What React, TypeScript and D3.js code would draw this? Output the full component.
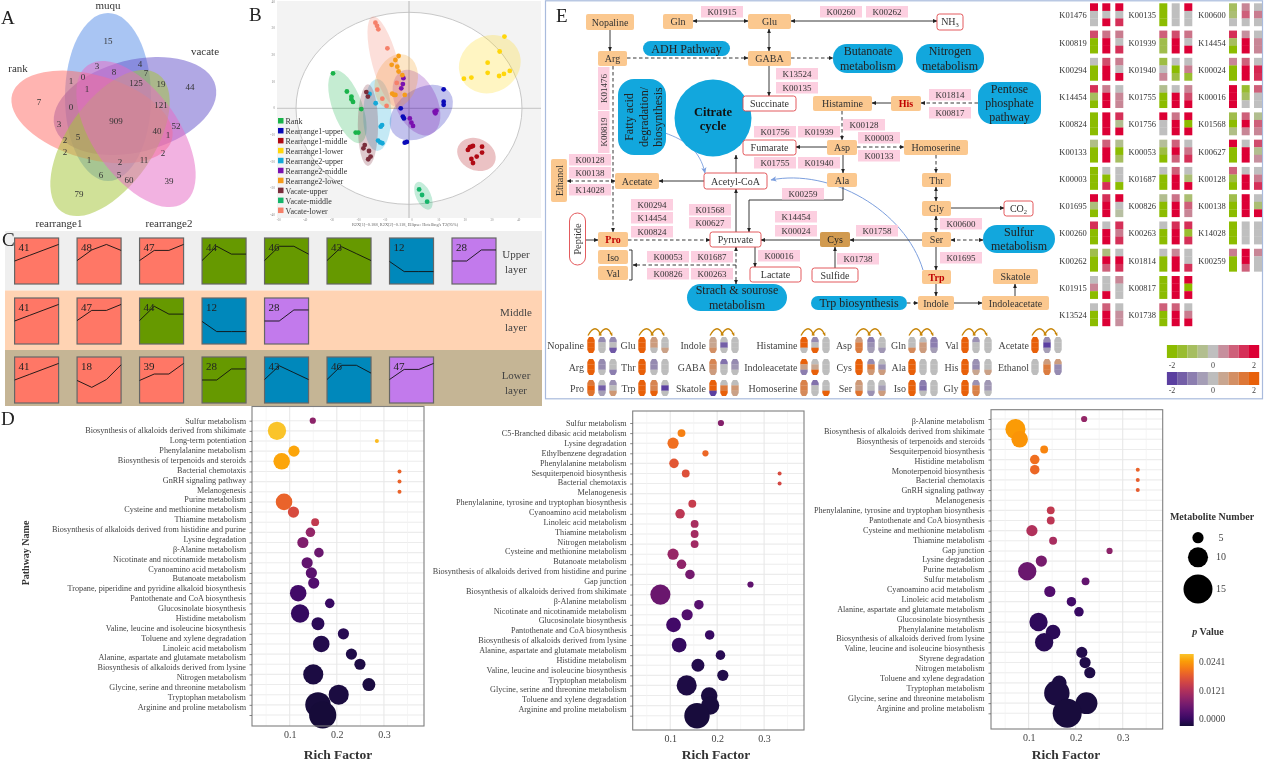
import React, { useEffect, useRef } from "react";
import * as d3 from "d3";

// ---------- panel A: venn
const vennNames = ["muqu", "vacate", "rank", "rearrange1", "rearrange2"];
const vennCounts = [15, 3, 4, 8, 7, 1, 0, 1, 125, 19, 44, 7, 0, 121, 909, 3, 52, 40, 1, 2, 5, 2, 2, 1, 11, 2, 6, 5, 60, 39, 79];
const vennSpots = [[108, 41], [97, 66], [140, 64], [114, 72], [146, 73], [71, 81], [83, 77], [87, 89], [136, 83], [161, 84], [190, 87], [39, 102], [71, 107], [161, 105], [116, 121], [59, 124], [176, 126], [157, 131], [168, 135], [65, 140], [78, 137], [65, 152], [163, 153], [89, 160], [144, 160], [120, 162], [101, 175], [119, 175], [129, 180], [169, 181], [79, 194]];
const vennNameSpots = [[108, 5], [205, 51], [18, 68], [59, 223], [169, 223]];
const vennEllipses = [
  { cx: 108, cy: 97, rot: 0, rx: 43, ry: 84, fill: "#5b8fe8" },
  { cx: 135, cy: 106, rot: 76, rx: 46, ry: 83, fill: "#6a58cc" },
  { cx: 92, cy: 117, rot: -74, rx: 42, ry: 83, fill: "#ff6f6a" },
  { cx: 110, cy: 143, rot: 35, rx: 43, ry: 84, fill: "#a5c63a" },
  { cx: 136, cy: 134, rot: -35, rx: 43, ry: 84, fill: "#e76cc5" },
];

// ---------- panel B: score plot
const pcaLegend = ["Rank", "Rearrange1-upper", "Rearrange1-middle", "Rearrange1-lower", "Rearrange2-upper", "Rearrange2-middle", "Rearrange2-lower", "Vacate-upper", "Vacate-middle", "Vacate-lower"];
const pcaColors = ["#19b34a", "#0a0ab8", "#b00a14", "#ffd60a", "#14a8d8", "#7a10b0", "#f59b1a", "#7b2d3b", "#15b56a", "#f5806a"];
const pcaPoints = [
  [[-28.5, 13.1], [-23.3, 6.3], [-21.6, 4.4], [-21.6, 3.4], [-21, 2.4], [-17.9, -0.3], [-20, -9.1], [-19, -9.1]],
  [[-3.1, 0], [-2.3, -3.1], [-1.9, -3.8], [-1.6, -12.9], [-0.8, -12.6], [13, 7.1], [13, 2.5], [13, 1.3]],
  [[22.1, -15.6], [22.8, -14.6], [23.4, -14.4], [24, -14.1], [27.4, -14.4], [27.4, -16.6], [25.4, -18.1], [23.4, -19], [24, -20.5]],
  [[20.6, 11.1], [23.4, 11.5], [29.5, 17.1], [29.5, 13.3], [33.8, 12.1], [34, 21.3], [35.6, 12.9], [35.8, 26.9], [37.8, 14]],
  [[-14.8, 5.4], [-12.5, 1.9], [-10.6, -6.9], [-10.1, -6.3], [-11.6, -12.1], [-10.8, -12.8], [-10, -13.1]],
  [[-2.1, 11.3], [-2.3, 9.1], [-2.9, 7.5], [0.3, -3.8], [0.9, -5.4], [1.5, -6.6], [9.6, -1.3], [10.3, -0.9], [9.9, -1.9]],
  [[-6.5, 16.3], [-5.1, 18.1], [-3.9, 19.6], [-4.4, 15.6], [-3.9, 13.8], [-2.5, 12.4], [-6.3, 5.5], [-5.6, 5], [-5.1, 5], [-1.6, 5]],
  [[-16, 6.1], [-15.4, 4.4], [-16.6, -13.8], [-17.1, -15], [-15, -16], [-14.4, -18.1], [-15.3, -19.1]],
  [[3.8, -30.4], [4.9, -32.5], [6.8, -35]],
  [[-12.6, 32.1], [-12, 30.9], [-11.5, 29.6], [-8.1, 22.5], [-4.6, 9.5], [-11.9, 7], [-10, 3.6], [-8.4, 0.9]],
];
const pcaEllipses = [
  [-23.1, 0.6, 5.6, 14.4, -20], [4.6, -1.6, 13.1, 8.8, -35], [25.3, -17.3, 7.5, 5.9, 25], [30.3, 16.5, 11.9, 10.6, -30],
  [-11.9, -2.5, 5.3, 13.5, 0], [2.8, 2.1, 7.8, 13.1, -25], [-4.8, 10, 7.8, 10.6, 20], [-15.4, -6.3, 3.8, 15.3, 0],
  [5.4, -32.8, 2.8, 5.6, -25], [-9.1, 17.5, 4.8, 17.5, -15],
];
const pcaTicksX = [-50, -40, -30, -20, -10, 0, 10, 20, 30, 40, 50];
const pcaTicksY = [-40, -30, -20, -10, 0, 10, 20, 30, 40];

// ---------- panel C: trend profiles
const profiles = {
  41: [0.5, 0.62, 0.74, 0.86], 48: [0.51, 0.74, 0.86, 0.73], 47: [0.51, 0.73, 0.73, 0.86], 44: [0.51, 0.82, 0.65, 0.65],
  46: [0.51, 0.82, 0.82, 0.65], 43: [0.51, 0.81, 0.66, 0.51], 12: [0.49, 0.27, 0.27, 0.27], 28: [0.5, 0.5, 0.74, 0.74],
  18: [0.49, 0.34, 0.51, 0.83], 39: [0.49, 0.63, 0.63, 0.86],
};
const upperRow = [[41, "r"], [48, "r"], [47, "r"], [44, "g"], [46, "g"], [43, "g"], [12, "b"], [28, "p"]];
const middleRow = [[41, "r"], [47, "r"], [44, "g"], [12, "b"], [28, "p"]];
const lowerRow = [[41, "r"], [18, "r"], [39, "r"], [28, "g"], [43, "b"], [46, "b"], [47, "p"]];
const profileFill = { r: "#ff7766", g: "#669900", b: "#0088bb", p: "#c27aec" };
const layerRows = [
  { boxes: upperRow, bg: "#efefef", y0: 231, y1: 290.5, top: 238, lines: ["Upper", "layer"], ly: 258 },
  { boxes: middleRow, bg: "#ffd3b3", y0: 290.5, y1: 350, top: 298, lines: ["Middle", "layer"], ly: 316 },
  { boxes: lowerRow, bg: "#c5b595", y0: 350, y1: 406, top: 357, lines: ["Lower", "layer"], ly: 379 },
];

// ---------- panel D: pathway bubbles
const names1 = ["Sulfur metabolism", "Biosynthesis of alkaloids derived from shikimate", "Long-term potentiation", "Phenylalanine metabolism", "Biosynthesis of terpenoids and steroids", "Bacterial chemotaxis", "GnRH signaling pathway", "Melanogenesis", "Purine metabolism", "Cysteine and methionine metabolism", "Thiamine metabolism", "Biosynthesis of alkaloids derived from histidine and purine", "Lysine degradation", "β-Alanine metabolism", "Nicotinate and nicotinamide metabolism", "Cyanoamino acid metabolism", "Butanoate metabolism", "Tropane, piperidine and pyridine alkaloid biosynthesis", "Pantothenate and CoA biosynthesis", "Glucosinolate biosynthesis", "Histidine metabolism", "Valine, leucine and isoleucine biosynthesis", "Toluene and xylene degradation", "Linoleic acid metabolism", "Alanine, aspartate and glutamate metabolism", "Biosynthesis of alkaloids derived from lysine", "Nitrogen metabolism", "Glycine, serine and threonine metabolism", "Tryptophan metabolism", "Arginine and proline metabolism"];
const rich1 = [0.149, 0.073, 0.285, 0.109, 0.083, 0.333, 0.333, 0.333, 0.088, 0.108, 0.154, 0.144, 0.128, 0.162, 0.137, 0.146, 0.151, 0.118, 0.185, 0.122, 0.16, 0.214, 0.167, 0.231, 0.249, 0.15, 0.268, 0.204, 0.16, 0.17];
const count1 = [2, 9, 1, 5, 8, 1, 1, 1, 8, 5, 3, 4, 5, 4, 5, 5, 5, 8, 4, 9, 6, 5, 8, 5, 5, 10, 6, 10, 13, 14];
const pval1 = [0.0089, 0.0241, 0.0235, 0.0222, 0.0222, 0.0174, 0.0174, 0.0174, 0.0174, 0.0152, 0.0133, 0.0095, 0.0079, 0.0063, 0.0057, 0.0051, 0.0044, 0.0032, 0.0025, 0.0022, 0.0016, 0.0013, 0.001, 0.0007, 0.0006, 0.0005, 0.0004, 0.0003, 0.0001, 0];

const names2 = ["Sulfur metabolism", "C5-Branched dibasic acid metabolism", "Lysine degradation", "Ethylbenzene degradation", "Phenylalanine metabolism", "Sesquiterpenoid biosynthesis", "Bacterial chemotaxis", "Melanogenesis", "Phenylalanine, tyrosine and tryptophan biosynthesis", "Cyanoamino acid metabolism", "Linoleic acid metabolism", "Thiamine metabolism", "Nitrogen metabolism", "Cysteine and methionine metabolism", "Butanoate metabolism", "Biosynthesis of alkaloids derived from histidine and purine", "Gap junction", "Biosynthesis of alkaloids derived from shikimate", "β-Alanine metabolism", "Nicotinate and nicotinamide metabolism", "Glucosinolate biosynthesis", "Pantothenate and CoA biosynthesis", "Biosynthesis of alkaloids derived from lysine", "Alanine, aspartate and glutamate metabolism", "Histidine metabolism", "Valine, leucine and isoleucine biosynthesis", "Tryptophan metabolism", "Glycine, serine and threonine metabolism", "Toluene and xylene degradation", "Arginine and proline metabolism"];
const rich2 = [0.208, 0.124, 0.106, 0.175, 0.108, 0.133, 0.333, null, 0.147, 0.121, 0.152, 0.152, 0.152, 0.106, 0.124, 0.142, 0.271, 0.079, 0.161, 0.136, 0.107, 0.184, 0.119, 0.207, 0.159, 0.212, 0.135, 0.183, 0.185, 0.157];
const count2 = [2, 3, 5, 2, 4, 3, 1, 0, 3, 4, 3, 3, 3, 5, 4, 4, 2, 10, 4, 5, 7, 4, 7, 4, 6, 5, 10, 8, 9, 13];
const pval2 = [0.0083, 0.0197, 0.0184, 0.0178, 0.0165, 0.0159, 0.0149, 0, 0.0136, 0.0127, 0.0111, 0.0108, 0.0105, 0.0098, 0.0092, 0.007, 0.0054, 0.0063, 0.0048, 0.0044, 0.0032, 0.0025, 0.0022, 0.0013, 0.001, 0.0008, 0.0006, 0.0004, 0.0002, 0.0001];
const extra2 = { row: "Sesquiterpenoid biosynthesis", rich: 0.333, count: 1, p: 0.0152 };

const names3 = ["β-Alanine metabolism", "Biosynthesis of alkaloids derived from shikimate", "Biosynthesis of terpenoids and steroids", "Sesquiterpenoid biosynthesis", "Histidine metabolism", "Monoterpenoid biosynthesis", "Bacterial chemotaxis", "GnRH signaling pathway", "Melanogenesis", "Phenylalanine, tyrosine and tryptophan biosynthesis", "Pantothenate and CoA biosynthesis", "Cysteine and methionine metabolism", "Thiamine metabolism", "Gap junction", "Lysine degradation", "Purine metabolism", "Sulfur metabolism", "Cyanoamino acid metabolism", "Linoleic acid metabolism", "Alanine, aspartate and glutamate metabolism", "Glucosinolate biosynthesis", "Phenylalanine metabolism", "Biosynthesis of alkaloids derived from lysine", "Valine, leucine and isoleucine biosynthesis", "Styrene degradation", "Nitrogen metabolism", "Toluene and xylene degradation", "Tryptophan metabolism", "Glycine, serine and threonine metabolism", "Arginine and proline metabolism"];
const rich3 = [0.218, 0.072, 0.081, 0.133, 0.113, 0.113, 0.332, 0.332, null, 0.147, 0.147, 0.107, 0.152, 0.272, 0.127, 0.097, 0.221, 0.145, 0.191, 0.207, 0.121, 0.152, 0.133, 0.213, 0.22, 0.23, 0.165, 0.16, 0.223, 0.182];
const count3 = [2, 10, 8, 3, 4, 4, 1, 1, 0, 3, 3, 5, 3, 2, 5, 9, 3, 5, 4, 4, 9, 7, 9, 5, 5, 5, 7, 13, 11, 15];
const pval3 = [0.0095, 0.0216, 0.021, 0.02, 0.0184, 0.0178, 0.0171, 0.0168, 0, 0.0133, 0.0127, 0.0117, 0.0111, 0.0089, 0.0073, 0.0063, 0.0057, 0.0044, 0.0032, 0.0025, 0.0019, 0.0016, 0.0013, 0.001, 0.0008, 0.0007, 0.0005, 0.0004, 0.0002, 0.0001];
const extra3 = { row: "Monoterpenoid biosynthesis", rich: 0.332, count: 1, p: 0.0174 };

const richTicks = [0.1, 0.2, 0.3];
const richMinor = [0.05, 0.15, 0.25, 0.35];
const sizeLegend = [5, 10, 15];
const pLegend = [0.0241, 0.0121, 0];

// ---------- panel E: pathway map
const peach = [
  ["Nopaline", 586, 14, 634, 30], ["Gln", 663, 14, 693, 29], ["Glu", 748, 14, 791, 29], ["Arg", 598, 51, 627, 66], ["GABA", 748, 51, 791, 66],
  ["Histamine", 813, 96, 872, 111], ["Asp", 827, 140, 857, 155], ["Homoserine", 904, 140, 968, 155], ["Ala", 827, 173, 857, 187], ["Thr", 922, 173, 951, 187],
  ["Gly", 922, 201, 951, 216], ["Ser", 922, 232, 951, 247], ["Acetate", 615, 173, 659, 189], ["Iso", 598, 250, 628, 264], ["Val", 598, 266, 628, 280],
  ["Skatole", 993, 269, 1038, 284], ["Indoleacetate", 982, 296, 1049, 310], ["Indole", 918, 296, 954, 310],
];
const redPeach = [["His", 891, 96, 921, 111], ["Pro", 598, 232, 628, 247], ["Trp", 922, 270, 951, 284]];
const whites = [["Succinate", 743, 96, 796, 111], ["Fumarate", 743, 140, 796, 155], ["Acetyl-CoA", 704, 173, 767, 189], ["Pyruvate", 710, 232, 761, 247], ["Lactate", 750, 267, 801, 282], ["Sulfide", 812, 268, 858, 282]];
const enzymes = [
  ["K01915", 701, 6], ["K00260", 820, 6], ["K00262", 866, 6], ["K13524", 776, 68], ["K00135", 776, 82], ["K01814", 929, 89], ["K00817", 929, 107],
  ["K00128", 843, 119], ["K01756", 754, 126], ["K01939", 798, 126], ["K00003", 858, 132], ["K00133", 858, 150], ["K01755", 754, 157], ["K01940", 798, 157],
  ["K00128", 569, 154], ["K00138", 569, 167], ["K14028", 569, 184], ["K00259", 782, 188], ["K00294", 631, 199], ["K14454", 631, 212], ["K00824", 631, 226],
  ["K01568", 689, 204], ["K00627", 689, 217], ["K14454", 775, 211], ["K00024", 775, 225], ["K00600", 940, 218], ["K01758", 856, 225], ["K01695", 940, 252],
  ["K01738", 837, 253], ["K00016", 758, 250], ["K00053", 647, 251], ["K01687", 691, 251], ["K00826", 647, 268], ["K00263", 691, 268],
];
const pills = [
  { x0: 643, y0: 41, x1: 730, y1: 56, lines: ["ADH Pathway"] }, { x0: 833, y0: 44, x1: 903, y1: 73, lines: ["Butanoate", "metabolism"] },
  { x0: 916, y0: 44, x1: 984, y1: 73, lines: ["Nitrogen", "metabolism"] }, { x0: 978, y0: 82, x1: 1041, y1: 124, lines: ["Pentose", "phosphate", "pathway"] },
  { x0: 983, y0: 225, x1: 1055, y1: 253, lines: ["Sulfur", "metabolism"] }, { x0: 687, y0: 284, x1: 787, y1: 311, lines: ["Strach & sourose", "metabolism"] },
  { x0: 811, y0: 296, x1: 907, y1: 310, lines: ["Trp biosynthesis"] },
];
// [points, dashed, arrow at start, arrow at end]
const links = [
  [[[610, 30], [610, 51]], 0, 0, 1], [[[693, 21], [748, 21]], 0, 1, 1], [[[937, 21], [791, 21]], 0, 1, 1], [[[769, 29], [769, 51]], 0, 1, 1],
  [[[627, 58], [748, 58]], 1, 0, 1], [[[791, 58], [833, 58]], 1, 0, 1], [[[769, 66], [769, 96]], 0, 0, 1], [[[613, 66], [613, 232]], 1, 0, 1],
  [[[704, 181], [659, 181]], 0, 0, 1], [[[615, 181], [567, 181]], 1, 1, 1], [[[628, 240], [710, 240]], 1, 0, 1], [[[585, 240], [598, 240]], 0, 0, 1],
  [[[736, 232], [736, 189]], 0, 0, 1], [[[736, 173], [736, 155]], 0, 0, 1], [[[820, 240], [761, 240]], 0, 0, 1], [[[843, 187], [843, 200], [749, 200], [749, 232]], 0, 0, 1],
  [[[827, 147], [796, 147]], 0, 0, 1], [[[843, 155], [843, 173]], 0, 0, 1], [[[857, 147], [904, 147]], 1, 0, 1], [[[842, 111], [842, 140]], 1, 0, 1],
  [[[891, 103], [872, 103]], 0, 0, 1], [[[978, 103], [921, 103]], 1, 0, 1], [[[936, 155], [936, 173]], 1, 0, 1], [[[936, 187], [936, 201]], 0, 1, 1],
  [[[951, 208], [1004, 208]], 0, 0, 1], [[[936, 216], [936, 232]], 0, 1, 1], [[[951, 240], [983, 240]], 1, 1, 1], [[[922, 240], [850, 240]], 0, 0, 1],
  [[[936, 247], [936, 270]], 0, 0, 1], [[[936, 284], [936, 296]], 0, 0, 1], [[[907, 303], [918, 303]], 1, 0, 1], [[[954, 303], [982, 303]], 0, 0, 1],
  [[[1015, 296], [1015, 284]], 0, 0, 1], [[[835, 268], [835, 247]], 0, 0, 1], [[[755, 247], [755, 267]], 0, 0, 1], [[[736, 247], [736, 284]], 1, 1, 1],
  [[[736, 265], [633, 265]], 1, 0, 1],
];

const heatGroup1 = ["K01476", "K00819", "K00294", "K14454", "K00824", "K00133", "K00003", "K01695", "K00260", "K00262", "K01915", "K13524"];
const heatValues1 = [
  [[2, 0, 0], [2, 0, 2], [2, 0, 1.5]], [[1.2, -2, -2], [0.8, 2, 2], [0.7, 0, 1.5]], [[0, -2, -2], [1.2, 2, 2], [0.7, 0, 2]], [[1.5, -1, -2], [0.7, 2, 2], [0, 0.6, 0.6]],
  [[-2, -2, -2], [2, 2, 2], [1.5, -0.5, 2]], [[-0.6, -2, -2], [1, 2, 2], [-0.5, -2, -1]], [[-2, -2, -2], [0, -2, 1.5], [0, 0, -2]], [[2, -0.7, -2], [1.5, 2, 2], [2, 0, -0.3]],
  [[1.5, -2, -2], [0, 2, 2], [1.5, 0.7, 1.5]], [[-1.2, -2, -2], [-0.7, 2, 1], [0, 2, 1.5]], [[0, 0.6, -2], [0, 0, 2], [0.6, 0, 0]], [[0, -2, -2], [1, 2, 2], [0, 0.5, 0.5]],
];
const heatGroup2 = ["K00135", "K01939", "K01940", "K01755", "K01756", "K00053", "K01687", "K00826", "K00263", "K01814", "K00817", "K01738"];
const heatValues2 = [
  [[-2, -2, -2], [0, 0, 0], [2, 0, 0]], [[1, -1.2, -1.2], [1.2, 2, 2], [0.8, 0, 2]], [[-1.3, 0, 0.6], [0, -2, -1.3], [0, 0.7, -1.5]], [[-0.5, -2, -2], [0, 2, 2], [0.6, 1.2, 2]],
  [[2, 0, 0], [0.8, 2, 2], [2, -2, 2]], [[-0.4, -1.3, -2], [1, 2, 1], [0, 0.8, 1.5]], [[0, -2, -2], [1, 2, 2], [0, -0.8, 2]], [[-0.5, -2, -2], [0.8, 2, 2], [-0.8, 1, 0.6]],
  [[0, -2, -2], [1.5, 2, 2], [1.5, -1.5, 1.5]], [[0, -2, -2], [0.6, 2, 2], [0, 0, 1.5]], [[-2, -2, -2], [2, 2, 2], [2, -2, 2]], [[1, -2, -2], [1, 2, 2], [0, 0.7, 2]],
];
const heatGroup3 = ["K00600", "K14454", "K00024", "K00016", "K01568", "K00627", "K00128", "K00138", "K14028", "K00259"];
const heatValues3 = [
  [[-1, -0.8, 0], [0.6, 1, 0], [0, 0.7, 0]], [[1.5, -1, -2], [0.5, 2, 2], [0, 0.6, 0.6]], [[0.6, -2, -2], [1, 2, 2], [0, 1.6, 1.5]], [[2, 2, 2], [-1.5, -1, 0], [1, 0, 0]],
  [[-1.2, -2, -0.6], [1, 2, 0.6], [-0.5, 1, 0.6]], [[2, -2, -2], [0, 2, 2], [1.2, -0.5, 0.5]], [[1, -1.3, -2], [0, 2, 2], [0, 0.7, 1.5]], [[-1.2, -2, -2], [2, 2, 2], [0, -0.8, 2]],
  [[-2, -2, -2], [0, 0, 0], [0, 0, 0]], [[0.7, -2, -2], [2, 2, 1], [0.6, 0, 0]],
];
const heatLayout = [
  { names: heatGroup1, values: heatValues1, labelX: 1086.7, cols: [1090, 1102.3, 1115.3] },
  { names: heatGroup2, values: heatValues2, labelX: 1156, cols: [1159.3, 1171.7, 1184.3] },
  { names: heatGroup3, values: heatValues3, labelX: 1225.7, cols: [1229, 1241.7, 1254] },
];

const metabolites = [
  ["Nopaline", "Arg", "Pro"], ["Glu", "Thr", "Trp"], ["Indole", "GABA", "Skatole"], ["Histamine", "Indoleacetate", "Homoserine"],
  ["Asp", "Cys", "Ser"], ["Gln", "Ala", "Iso"], ["Val", "His", "Gly"], ["Acetate", "Ethanol"],
];
const metaboliteValues = [
  [[[2, 2, 2], [-0.8, 0, 0], [-0.8, 0, -1.6]], [[2, 2, 2], [-0.8, -0.8, 0], [0, 0, -1]], [[1.5, 2, 1.6], [0, -1.5, -0.5], [-0.7, 0, 0.8]]],
  [[[2, 2, 2], [0.7, 0.7, 0], [0, 0, 0.6]], [[2, 2, 2], [-0.8, -0.8, 0], [0, 0, 0]], [[2, 2, 2], [1.2, 1.2, 2], [0, -2, 0]]],
  [[[0.5, 0.5, 1], [0, -1.5, 0], [0, 0, 0]], [[1.2, 1, 0.7], [-1.2, 0, 0], [-0.8, -0.6, 0]], [[2, 2, -2], [0, 1.4, 2], [0, 0.8, 0.6]]],
  [[[2, 2, 0], [-0.8, 0, 2], [0, 0, 0]], [[2, 0.6, -1], [0, 0.5, 2], [0, 0, 0]], [[1.3, 1.3, 1.1], [-1.2, 0, 0], [0, 0, 2]]],
  [[[0.7, 1.4, 1.4], [-1, -0.7, -0.5], [0, 0, -0.6]], [[2, 2, 2], [-0.8, 1.4, 0.8], [0, -0.7, 0.7]], [[0.8, 0.6, 1.6], [0, 0, -0.7], [0, -0.5, 0.7]]],
  [[[0, 0, 1.1], [0, 0.7, 0.7], [-1, -1, -0.5]], [[2, 2, 2], [0, 0, 0], [0, 0, 0]], [[2, 2, 2], [-1, -1.2, 0], [0, 0, 0]]],
  [[[2, 2, 2], [-0.7, 0, 0], [0, 0, 0]], [[2, 2, 2], [-0.7, -0.8, 0.5], [0, 0, 0.6]], [[2, 2, 2], [-0.7, 1.3, 1.3], [-0.6, -0.6, 0]]],
  [[[2, 2, 2], [-0.8, -2, -0.5], [0, 0, 0]], [[0, 0, 0], [0.7, 1.4, 1.4], [0.7, -0.8, -0.8]]],
];
const barrelLabelX = [584, 635.5, 706, 797.5, 852, 906, 958.5, 1029];
const barrelCenters = [[591, 602, 613], [642, 654, 665], [713, 724, 735], [804, 815, 826], [859, 871, 882], [912, 923, 934], [965, 976, 988], [1035, 1047, 1058]];
const barrelRows = [345, 367, 388];
const legendSteps = [-2, -1.5, -1, -0.5, 0, 0.5, 1, 1.5, 2];
const legendTicks = [-2, 0, 2];

const SERIF = "'Liberation Serif', serif";
const greenRed = d3.scaleLinear<string>().domain([-2, 0, 2]).range(["#8cbc00", "#bfbfbf", "#dc0035"]);
const purpleOrange = d3.scaleLinear<string>().domain([-2, 0, 2]).range(["#5b3fa0", "#bdbdbd", "#e8600a"]);
const pToInferno = d3.scaleLinear().domain([0, 0.0241]).range([0.1, 0.86]);
const pColor = (p) => d3.interpolateInferno(pToInferno(p));
const bubbleR = d3.scaleLinear().domain([1, 2, 5, 15]).range([2, 3.1, 5.6, 14.5]);
const pathOf = d3.line();

const Venn = () => (
  <g fontFamily={SERIF} fill="#333">
    {vennEllipses.map((e, i) => (
      <ellipse key={i} cx={e.cx} cy={e.cy} rx={e.rx} ry={e.ry} fill={e.fill} fillOpacity={0.52} transform={`rotate(${e.rot} ${e.cx} ${e.cy})`} />
    ))}
    {vennCounts.map((c, i) => (
      <text key={i} x={vennSpots[i][0]} y={vennSpots[i][1]} fontSize={9} textAnchor="middle" dominantBaseline="central">{c}</text>
    ))}
    {vennNames.map((n, i) => (
      <text key={n} x={vennNameSpots[i][0]} y={vennNameSpots[i][1]} fontSize={11} textAnchor="middle" dominantBaseline="central">{n}</text>
    ))}
  </g>
);

const Score = () => {
  const x = d3.scaleLinear().domain([-50, 50]).range([275.7, 542.3]);
  const y = d3.scaleLinear().domain([-40, 40]).range([215, 1.6]);
  const ux = (v) => x(v) - x(0);
  return (
    <g fontFamily={SERIF}>
      <rect x={277} y={1} width={264} height={217} fill="#f3f3f3" />
      <ellipse cx={x(0)} cy={y(0)} rx={113} ry={96} fill="#fff" stroke="#c8c8c8" />
      <line x1={277} x2={541} y1={y(0)} y2={y(0)} stroke="#c4c4c4" />
      <line x1={x(0)} x2={x(0)} y1={1} y2={218} stroke="#b8b8b8" />
      {pcaEllipses.map((e, i) => (
        <ellipse key={i} cx={x(e[0])} cy={y(e[1])} rx={ux(e[2])} ry={ux(e[3])} fill={pcaColors[i]} fillOpacity={0.25} transform={`rotate(${e[4]} ${x(e[0])} ${y(e[1])})`} />
      ))}
      {pcaPoints.map((g, i) => g.map((p, j) => (
        <circle key={`${i}-${j}`} cx={x(p[0])} cy={y(p[1])} r={2.4} fill={pcaColors[i]} />
      )))}
      {pcaTicksX.slice(0, 10).map((t) => (
        <text key={t} x={x(t) + 3} y={220.5} fontSize={3} fill="#888" textAnchor="middle">{t}</text>
      ))}
      {pcaTicksY.map((t) => (
        <text key={t} x={275} y={y(t) + 1} fontSize={3.6} fill="#888" textAnchor="end">{t}</text>
      ))}
      <text x={405} y={225.5} fontSize={4.4} fill="#666" textAnchor="middle">R2X[1]=0.188, R2X[2]=0.118, Ellipse: Hotelling's T2(95%)</text>
      {pcaLegend.map((n, i) => (
        <g key={n}>
          <rect x={278} y={118 + i * 9.95} width={5.5} height={5.5} fill={pcaColors[i]} />
          <text x={285.5} y={124 + i * 9.95} fontSize={8} fill="#333">{n}</text>
        </g>
      ))}
    </g>
  );
};

const Layers = () => {
  const step = d3.scaleLinear().domain([0, 7]).range([14.6, 452]);
  const t = d3.scalePoint<number>().domain([0, 1, 2, 3]).range([0, 44]);
  const v = d3.scaleLinear().domain([0, 1]).range([46, 0]);
  return (
    <g fontFamily={SERIF}>
      {layerRows.map((row, i) => (
        <g key={i}>
          <rect x={5} y={row.y0} width={537} height={row.y1 - row.y0} fill={row.bg} />
          {row.boxes.map((b, j) => {
            const left = step(j);
            const pts = profiles[b[0]].map((d, k) => [left + t(k), row.top + v(d)]);
            return (
              <g key={j}>
                <rect x={left} y={row.top} width={44} height={46} fill={profileFill[b[1]]} stroke="#666" strokeWidth={1.2} />
                <path d={pathOf(pts)} fill="none" stroke="#111" strokeWidth={0.9} />
                <text x={left + 4} y={row.top + 13} fontSize={11} fill="#222">{b[0]}</text>
              </g>
            );
          })}
          {row.lines.map((l, k) => (
            <text key={l} x={516} y={row.ly + k * 14.5} fontSize={11} fill="#444" textAnchor="middle">{l}</text>
          ))}
        </g>
      ))}
    </g>
  );
};

const Bubbles = ({ left, right, top, bottom, rows, labels, labelX, titleX, names, rich, count, pval, extra }) => {
  const xRef = useRef(null);
  const yRef = useRef(null);
  const x = d3.scaleLinear().domain([0.02, 0.385]).range([left, right]);
  const rowY = d3.scalePoint().domain(names).range(rows);
  const labelY = d3.scalePoint().domain(names).range(labels);

  useEffect(() => {
    const xAxis = d3.select(xRef.current);
    xAxis.call(d3.axisBottom(x).tickValues(richTicks).tickFormat(d3.format(".1f")).tickSize(0).tickPadding(5));
    xAxis.select(".domain").remove();
    xAxis.selectAll("text").attr("font-family", SERIF).attr("font-size", 10).attr("fill", "#444");
    const yAxis = d3.select(yRef.current);
    yAxis.call(d3.axisLeft(rowY).tickFormat(() => "").tickSize(2.5));
    yAxis.select(".domain").remove();
    yAxis.selectAll("line").attr("stroke", "#555").attr("stroke-width", 0.7);
  }, []);

  const dots = names.map((n, i) => ({ row: n, rich: rich[i], count: count[i], p: pval[i] })).filter((d) => d.rich != null);
  if (extra) dots.splice(names.indexOf(extra.row) + 1, 0, extra);

  return (
    <g>
      {names.map((n) => (
        <line key={n} x1={left} x2={right} y1={rowY(n)} y2={rowY(n)} stroke="#ececec" strokeWidth={1.1} />
      ))}
      {richMinor.map((t) => (
        <line key={t} x1={x(t)} x2={x(t)} y1={top} y2={bottom} stroke="#f2f2f2" strokeWidth={0.7} />
      ))}
      {richTicks.map((t) => (
        <line key={t} x1={x(t)} x2={x(t)} y1={top} y2={bottom} stroke="#e8e8e8" strokeWidth={1.1} />
      ))}
      {dots.map((d, i) => (
        <circle key={i} cx={x(d.rich)} cy={rowY(d.row)} r={bubbleR(d.count)} fill={pColor(d.p)} />
      ))}
      <rect x={left} y={top} width={right - left} height={bottom - top} fill="none" stroke="#7f7f7f" strokeWidth={1.1} />
      <g ref={xRef} transform={`translate(0,${bottom})`} />
      <g ref={yRef} transform={`translate(${left},0)`} />
      {names.map((n) => (
        <text key={n} x={labelX} y={labelY(n)} fontFamily={SERIF} fontSize={8.2} fill="#444" textAnchor="end" dominantBaseline="central">{n}</text>
      ))}
      <text x={titleX} y={759} fontFamily={SERIF} fontSize={13.5} fontWeight="bold" fill="#333" textAnchor="middle">Rich Factor</text>
    </g>
  );
};

const BubbleLegend = () => {
  const sizeY = [537.7, 557.3, 589];
  const stops = d3.range(0, 1.001, 0.1);
  return (
    <g fontFamily={SERIF} fill="#333">
      <text x={1212} y={520} fontSize={10} fontWeight="bold" textAnchor="middle">Metabolite Number</text>
      {sizeLegend.map((s, i) => (
        <g key={s}>
          <circle cx={1198} cy={sizeY[i]} r={bubbleR(s)} fill="#000" />
          <text x={1221} y={sizeY[i] + 3} fontSize={10} fill="#444" textAnchor="middle">{s}</text>
        </g>
      ))}
      <text x={1208} y={635} fontSize={10} fontWeight="bold" textAnchor="middle"><tspan fontStyle="italic">p</tspan> Value</text>
      <defs>
        <linearGradient id="pbar" x1="0" x2="0" y1="1" y2="0">
          {stops.map((s) => <stop key={s} offset={s} stopColor={pColor(s * 0.0241)} />)}
        </linearGradient>
      </defs>
      <rect x={1179.7} y={654} width={14} height={72} fill="url(#pbar)" />
      {pLegend.map((p) => (
        <text key={p} x={1199} y={p === 0.0241 ? 665 : p === 0 ? 722 : 694} fontSize={9.5} fill="#444">{p.toFixed(4)}</text>
      ))}
    </g>
  );
};

const nodeBox = (n, fill, stroke, color, bold) => (
  <g key={n[0] + n[1]}>
    <rect x={n[1]} y={n[2]} width={n[3] - n[1]} height={n[4] - n[2]} rx={stroke ? 2.5 : 2} fill={fill} stroke={stroke || "none"} strokeWidth={0.9} />
    <text x={(n[1] + n[3]) / 2} y={(n[2] + n[4]) / 2} fontSize={10} fill={color} fontWeight={bold ? "bold" : "normal"} textAnchor="middle" dominantBaseline="central">{n[0]}</text>
  </g>
);

const PathMap = () => (
  <g fontFamily={SERIF}>
    <defs>
      <marker id="tip" viewBox="0 0 6 6" refX="5.5" refY="3" markerWidth="4.5" markerHeight="4.5" markerUnits="userSpaceOnUse" orient="auto-start-reverse">
        <path d="M0,0.4 L6,3 L0,5.6 Z" fill="#222" />
      </marker>
      <marker id="tipBlue" viewBox="0 0 6 6" refX="5.5" refY="3" markerWidth="6" markerHeight="6" markerUnits="userSpaceOnUse" orient="auto">
        <path d="M0,0.4 L6,3 L0,5.6 L1.5,3 Z" fill="#7c9fde" />
      </marker>
    </defs>
    <rect x={545.5} y={0.8} width={717} height={398} fill="#fff" stroke="#a9bbdd" strokeWidth={1.2} />
    {/* blue curves go under the boxes */}
    <path d="M665,133 C685,140 700,150 705,173" fill="none" stroke="#7c9fde" strokeWidth={0.9} markerEnd="url(#tipBlue)" />
    <path d="M923,270 C905,210 830,168 771,180" fill="none" stroke="#7c9fde" strokeWidth={1} markerEnd="url(#tipBlue)" />
    {links.map((l, i) => (
      <path key={i} d={pathOf(l[0])} fill="none" stroke="#222" strokeWidth={0.9} strokeDasharray={l[1] ? "3.5 2.5" : null}
        markerStart={l[2] ? "url(#tip)" : null} markerEnd={l[3] ? "url(#tip)" : null} />
    ))}
    <path d="M629,250 L632,250 L632,280 L629,280" fill="none" stroke="#222" strokeWidth={0.9} />
    {pills.map((p) => (
      <g key={p.lines[0]}>
        <rect x={p.x0} y={p.y0} width={p.x1 - p.x0} height={p.y1 - p.y0} rx={Math.min(14, (p.y1 - p.y0) / 2)} fill="#12a7dd" />
        {p.lines.map((l, i) => (
          <text key={l} x={(p.x0 + p.x1) / 2} y={(p.y0 + p.y1) / 2 + (i - (p.lines.length - 1) / 2) * 14.3} fontSize={12} fill="#222" textAnchor="middle" dominantBaseline="central">{l}</text>
        ))}
      </g>
    ))}
    <rect x={618} y={79} width={48} height={76} rx={16} fill="#12a7dd" />
    {["Fatty acid", "degradation/", "biosynthesis"].map((l, i) => (
      <text key={l} transform={`translate(${629 + i * 14.5},117) rotate(-90)`} fontSize={12} fill="#222" textAnchor="middle" dominantBaseline="central">{l}</text>
    ))}
    <circle cx={713} cy={118} r={38.5} fill="#12a7dd" />
    <text x={713} y={112} fontSize={12.5} fontWeight="bold" fill="#111" textAnchor="middle" dominantBaseline="central">Citrate</text>
    <text x={713} y={126} fontSize={12.5} fontWeight="bold" fill="#111" textAnchor="middle" dominantBaseline="central">cycle</text>
    {peach.map((n) => nodeBox(n, "#fbc88f", null, "#333", false))}
    {redPeach.map((n) => nodeBox(n, "#fbc88f", null, "#c00000", true))}
    {nodeBox(["Cys", 820, 232, 850, 247], "#d19a4f", null, "#222", false)}
    {whites.map((n) => nodeBox(n, "#fff", "#e0484c", "#333", false))}
    <rect x={1004} y={201} width={29} height={15} rx={2.5} fill="#fff" stroke="#e0484c" strokeWidth={0.9} />
    <text x={1018.5} y={212} fontSize={10} fill="#333" textAnchor="middle">CO<tspan fontSize={6.5} dy={2}>2</tspan></text>
    <rect x={937} y={14} width={26} height={16} rx={2.5} fill="#fff" stroke="#e0484c" strokeWidth={0.9} />
    <text x={950} y={25} fontSize={10} fill="#333" textAnchor="middle">NH<tspan fontSize={6.5} dy={2}>3</tspan></text>
    {enzymes.map((e, i) => (
      <g key={i}>
        <rect x={e[1]} y={e[2]} width={42} height={11.5} fill="#fccfe0" />
        <text x={e[1] + 21} y={e[2] + 5.9} fontSize={9} fill="#333" textAnchor="middle" dominantBaseline="central">{e[0]}</text>
      </g>
    ))}
    {[["K01476", 67, 110], ["K00819", 111, 153]].map((e) => (
      <g key={e[0]}>
        <rect x={598} y={e[1]} width={11.5} height={e[2] - e[1]} fill="#fccfe0" />
        <text transform={`translate(603.8,${(e[1] + e[2]) / 2}) rotate(-90)`} fontSize={9} fill="#333" textAnchor="middle" dominantBaseline="central">{e[0]}</text>
      </g>
    ))}
    <rect x={551} y={159} width={16} height={43} rx={2} fill="#fbc88f" />
    <text transform="translate(559,180.5) rotate(-90)" fontSize={10} fill="#333" textAnchor="middle" dominantBaseline="central">Ethanol</text>
    <rect x={569.5} y={213} width={16} height={52} rx={8} fill="#fff" stroke="#e0484c" strokeWidth={0.9} />
    <text transform="translate(577.5,239) rotate(-90)" fontSize={10.5} fill="#333" textAnchor="middle" dominantBaseline="central">Peptide</text>
  </g>
);

const Heat = () => {
  const rowTop = d3.scaleLinear().domain([0, 11]).range([3.3, 303.3]);
  return (
    <g fontFamily={SERIF}>
      {heatLayout.map((g, gi) => g.names.map((k, i) => (
        <g key={`${gi}-${i}`}>
          <text x={g.labelX} y={rowTop(i) + 12} fontSize={8.5} fill="#333" textAnchor="end" dominantBaseline="central">{k}</text>
          {g.values[i].map((col, c) => col.map((v, r) => (
            <rect key={`${c}-${r}`} x={g.cols[c]} y={rowTop(i) + (r * 22.7) / 3} width={8} height={22.7 / 3 + 0.2} fill={greenRed(v)} />
          )))}
        </g>
      )))}
      {[{ y: 345, ly: 368, scale: greenRed }, { y: 372, ly: 393, scale: purpleOrange }].map((bar, bi) => {
        const x = d3.scaleLinear().domain([-2, 2]).range([1172, 1254]);
        return (
          <g key={bi}>
            {legendSteps.map((s) => (
              <rect key={s} x={x(s) - 5.1} y={bar.y} width={10.3} height={13} fill={bar.scale(s)} />
            ))}
            {legendTicks.map((t) => (
              <text key={t} x={x(t)} y={bar.ly} fontSize={8} fill="#444" textAnchor="middle">{t}</text>
            ))}
          </g>
        );
      })}
    </g>
  );
};

const Barrels = () => (
  <g fontFamily={SERIF}>
    <defs>
      <clipPath id="barrel">
        <path d="M-2,-8 L2,-8 L3.7,-5 L3.7,5 L2,8 L-2,8 L-3.7,5 L-3.7,-5 Z" />
      </clipPath>
      <marker id="arcTip" viewBox="0 0 6 6" refX="5" refY="3" markerWidth="3.5" markerHeight="3.5" markerUnits="userSpaceOnUse" orient="auto">
        <path d="M0,0.4 L6,3 L0,5.6 Z" fill="#c8860a" />
      </marker>
    </defs>
    {metabolites.map((group, g) => (
      <g key={g}>
        {[0, 1].map((a) => (
          <path key={a} d={`M${barrelCenters[g][a] - 3},335.5 Q${(barrelCenters[g][a] + barrelCenters[g][a + 1]) / 2 - 1},322 ${barrelCenters[g][a + 1] - 1},335.5`} fill="none" stroke="#c8860a" strokeWidth={1.3} markerEnd="url(#arcTip)" />
        ))}
        {group.map((name, r) => (
          <g key={name}>
            <text x={barrelLabelX[g]} y={barrelRows[r]} fontSize={10} fill="#444" textAnchor="end" dominantBaseline="central">{name}</text>
            {metaboliteValues[g][r].map((cells, b) => (
              <g key={b} transform={`translate(${barrelCenters[g][b]},${barrelRows[r]})`} clipPath="url(#barrel)">
                {cells.map((v, c) => (
                  <rect key={c} x={-4} y={-8 + (c * 16) / 3} width={8} height={16 / 3 + 0.2} fill={purpleOrange(v)} />
                ))}
              </g>
            ))}
          </g>
        ))}
      </g>
    ))}
  </g>
);

export default function App() {
  return (
    <svg width={1266} height={761} style={{ position: "absolute", left: 0, top: 0, display: "block", background: "#fff", filter: "blur(0.35px)" }}>
      <Venn />
      <Score />
      <Layers />
      <PathMap />
      <Heat />
      <Barrels />
      <Bubbles left={252} right={424} top={406.5} bottom={726} rows={[420.7, 715]} labels={[421, 707.3]} labelX={246} titleX={338} names={names1} rich={rich1} count={count1} pval={pval1} extra={null} />
      <Bubbles left={632.7} right={804} top={411} bottom={730} rows={[423, 715.7]} labels={[423.7, 709.7]} labelX={626.7} titleX={716} names={names2} rich={rich2} count={count2} pval={pval2} extra={extra2} />
      <Bubbles left={991} right={1162.7} top={409.7} bottom={729} rows={[419, 713.3]} labels={[421.7, 708]} labelX={984.7} titleX={1066} names={names3} rich={rich3} count={count3} pval={pval3} extra={extra3} />
      <BubbleLegend />
      <text transform="translate(29,553) rotate(-90)" fontFamily={SERIF} fontSize={10} fontWeight="bold" fill="#333" textAnchor="middle">Pathway Name</text>
      {[["A", 1, 24], ["B", 249, 21], ["C", 2, 246], ["D", 1, 425], ["E", 556, 22]].map((l) => (
        <text key={l[0]} x={l[1]} y={l[2]} fontFamily={SERIF} fontSize={19} fill="#222">{l[0]}</text>
      ))}
    </svg>
  );
}
